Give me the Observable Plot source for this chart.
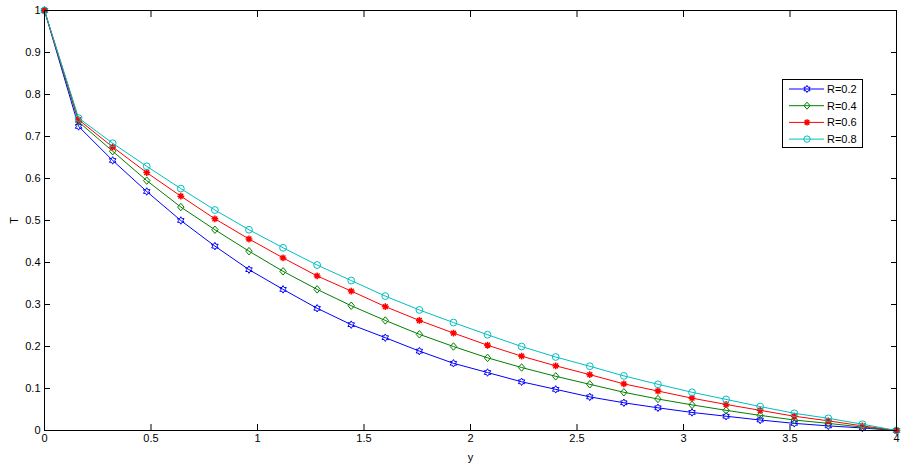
<!DOCTYPE html>
<html><head><meta charset="utf-8">
<script src="https://cdn.jsdelivr.net/npm/d3@7"></script>
<script src="https://cdn.jsdelivr.net/npm/@observablehq/plot@0.6"></script>
<style>
body{margin:0;background:#fff;}
#wrap{position:relative;width:906px;height:468px;}
#legend{position:absolute;left:782px;top:79px;}
</style></head><body><div id="wrap"></div>
<script>
const yPos = [0,0.16,0.32,0.48,0.64,0.8,0.96,1.12,1.28,1.44,1.6,1.76,1.92,2.08,2.24,2.4,2.56,2.72,2.88,3.04,3.2,3.36,3.52,3.68,3.84,4];
const seriesNames = ["R=0.2","R=0.4","R=0.6","R=0.8"];
const seriesColors = ["#0000ff","#008000","#ff0000","#00bfbf"];
const R02 = [1,0.724,0.643,0.569,0.500,0.439,0.383,0.336,0.291,0.252,0.221,0.189,0.160,0.138,0.116,0.098,0.080,0.066,0.054,0.043,0.034,0.025,0.017,0.011,0.006,0];
const R04 = [1,0.735,0.665,0.595,0.532,0.478,0.427,0.379,0.336,0.297,0.262,0.229,0.200,0.173,0.150,0.129,0.110,0.091,0.075,0.061,0.048,0.036,0.025,0.017,0.008,0];
const R06 = [1,0.740,0.675,0.614,0.558,0.504,0.456,0.411,0.368,0.332,0.295,0.262,0.232,0.203,0.177,0.154,0.133,0.111,0.094,0.077,0.062,0.048,0.034,0.023,0.011,0];
const R08 = [1,0.744,0.684,0.629,0.576,0.525,0.478,0.435,0.394,0.357,0.320,0.287,0.257,0.228,0.200,0.175,0.153,0.130,0.110,0.091,0.074,0.057,0.041,0.029,0.015,0];
const xTicks = [0,0.5,1,1.5,2,2.5,3,3.5,4];
const yTicks = [0,0.1,0.2,0.3,0.4,0.5,0.6,0.7,0.8,0.9,1];
const xLabel = "y";
const yLabel = "T";

// custom marker shapes (MATLAB-like)
const hexagram = {draw(ctx, size){
  const R = Math.sqrt(size/Math.PI)*1.1, r = R/Math.sqrt(3);
  for (let i=0;i<12;i++){const a=-Math.PI/2+i*Math.PI/6, rr=i%2?r:R, x=rr*Math.cos(a), y=rr*Math.sin(a); i?ctx.lineTo(x,y):ctx.moveTo(x,y);}
  ctx.closePath();
}};
const diamondM = {draw(ctx, size){
  const r = Math.sqrt(size/Math.PI);
  ctx.moveTo(0,-r*1.1);ctx.lineTo(r*0.95,0);ctx.lineTo(0,r*1.1);ctx.lineTo(-r*0.95,0);ctx.closePath();
}};
const asterisk8 = {draw(ctx, size){
  const r = Math.sqrt(size/Math.PI), d = r*Math.SQRT1_2;
  ctx.moveTo(-r,0);ctx.lineTo(r,0);ctx.moveTo(0,-r);ctx.lineTo(0,r);
  ctx.moveTo(-d,-d);ctx.lineTo(d,d);ctx.moveTo(-d,d);ctx.lineTo(d,-d);
}};
const seriesSymbols = [hexagram, diamondM, asterisk8, "circle"];
const seriesWidths = [1, 1, 1.5, 1];
const seriesValues = [R02, R04, R06, R08];

const rows = [];
seriesNames.forEach((name, s) => yPos.forEach((x, i) => rows.push({x, T: seriesValues[s][i], series: name})));

const fmt = d => d3.format("~g")(d);
const font = "'Liberation Sans', Arial, sans-serif";

const marks = [];
seriesNames.forEach((name, s) => {
  const d = rows.filter(r => r.series === name);
  marks.push(Plot.line(d, {x: "x", y: "T", stroke: seriesColors[s], strokeWidth: 1}));
  marks.push(Plot.dot(d, {x: "x", y: "T", stroke: seriesColors[s], fill: "none", symbol: seriesSymbols[s], r: 3.4, strokeWidth: seriesWidths[s]}));
});

const chart = Plot.plot({
  width: 906, height: 468,
  marginLeft: 44, marginRight: 10, marginTop: 10, marginBottom: 38,
  style: {fontFamily: font, fontSize: "11px", color: "#000", background: "#fff"},
  x: {domain: [0, 4]},
  y: {domain: [0, 1]},
  marks: [
    Plot.axisX({ticks: xTicks, anchor: "bottom", tickSize: -6, tickPadding: 10, tickFormat: fmt, label: xLabel, labelAnchor: "center", labelOffset: 30, labelArrow: "none"}),
    Plot.axisX({ticks: xTicks, anchor: "top", tickSize: -6, tickFormat: () => "", label: null}),
    Plot.axisY({ticks: yTicks, anchor: "left", tickSize: -6, tickPadding: 10, tickFormat: fmt, label: yLabel, labelAnchor: "center", labelOffset: 34, labelArrow: "none"}),
    Plot.axisY({ticks: yTicks, anchor: "right", tickSize: -6, tickFormat: () => "", label: null}),
    ...marks,
    Plot.frame({stroke: "#000"})
  ]
});
document.getElementById("wrap").appendChild(chart);

// legend box inside the axes (top-right)
const lg = d3.select("#wrap").append("svg").attr("id", "legend").attr("width", 82).attr("height", 70);
lg.append("rect").attr("x", 0.5).attr("y", 0.5).attr("width", 80).attr("height", 68).attr("fill", "#fff").attr("stroke", "#000");
seriesNames.forEach((name, s) => {
  const cy = 10 + s * 16.7;
  lg.append("line").attr("x1", 7).attr("x2", 42).attr("y1", cy).attr("y2", cy).attr("stroke", seriesColors[s]);
  lg.append("path").attr("d", d3.symbol(typeof seriesSymbols[s] === "string" ? d3.symbolCircle : seriesSymbols[s], Math.PI*3.2*3.2)())
    .attr("transform", `translate(25,${cy})`).attr("fill", "none").attr("stroke", seriesColors[s]).attr("stroke-width", seriesWidths[s]);
  lg.append("text").attr("x", 45).attr("y", cy).attr("dy", "0.35em").attr("font-family", font).attr("font-size", 11).text(name);
});
</script>
</body></html>
